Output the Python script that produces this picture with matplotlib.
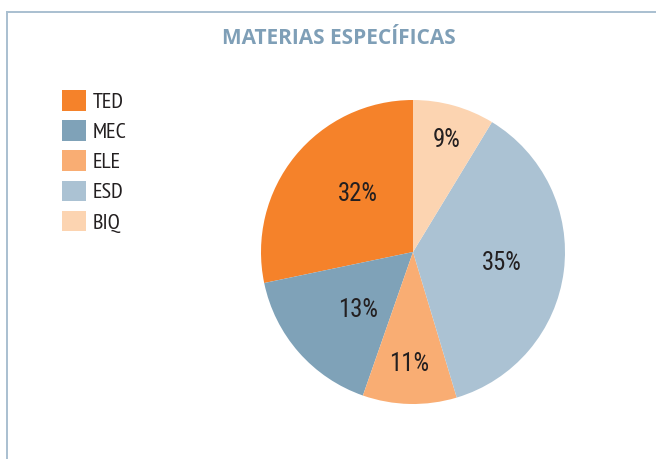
import numpy as np
import matplotlib
matplotlib.use("Agg")
import matplotlib.pyplot as plt
from matplotlib.lines import Line2D
from matplotlib.patches import Patch

# Data
categories = ["TED", "MEC", "ELE", "ESD", "BIQ"]
label_pct = [32, 13, 11, 35, 9]             # percentages printed on the slices
wedge_share = [28.3, 16.4, 10.0, 36.7, 8.7]  # slice sizes as drawn in the picture
colors = ["#f5822a", "#7fa2b8", "#f9ad73", "#abc2d3", "#fcd4b1"]
title = "MATERIAS ESPECÍFICAS"

# label placement style (radial distance and angular nudge, degrees)
label_dist = [0.528, 0.527, 0.74, 0.59, 0.767]
label_nudge = [-7.6, 5.4, -0.8, 0, -0.9]

W, H = 656, 459
fig = plt.figure(figsize=(W / 100, H / 100), dpi=100)
fig.patch.set_facecolor("white")

font_legend = ["PT Sans Narrow", "Roboto Condensed", "DejaVu Sans"]
font_label = ["Roboto Condensed", "Fira Sans Condensed", "PT Sans Narrow", "DejaVu Sans"]
font_title = ["Open Sans", "DejaVu Sans"]
txt_color = "#231f20"

# Frame lines (top and left)
fc = "#a9bfd0"
fig.add_artist(Line2D([7 / W, 1], [1 - 12 / H, 1 - 12 / H], color=fc, lw=1.4,
                      transform=fig.transFigure))
fig.add_artist(Line2D([7 / W, 7 / W], [0, 1 - 12 / H], color=fc, lw=1.4,
                      transform=fig.transFigure))

# Title
fig.text(339 / W, 1 - 38 / H, title, ha="center", va="center",
         fontsize=15, fontweight="bold", color="#7f9fb7", family=font_title)

# Pie axes
cx, cy, r = 413, 252, 152
ax = fig.add_axes([(cx - r) / W, (H - cy - r) / H, 2 * r / W, 2 * r / H])
wedges, texts = ax.pie(wedge_share, colors=colors, startangle=90, counterclock=True,
                       radius=1.0, wedgeprops=dict(linewidth=0))
ax.set_xlim(-1, 1)
ax.set_ylim(-1, 1)
ax.set_aspect("auto")
ax.axis("off")

for w, v, d, n in zip(wedges, label_pct, label_dist, label_nudge):
    mid = np.deg2rad((w.theta1 + w.theta2) / 2 + n)
    ax.text(d * np.cos(mid), d * np.sin(mid), f"{v}%", ha="center", va="center",
            fontsize=17.8, color=txt_color, family=font_label)

# Legend
handles = [Patch(facecolor=c, edgecolor="none") for c in colors]
leg = fig.legend(handles, categories, loc="upper left",
                 bbox_to_anchor=(62 / W, 1 - 90 / H), frameon=False,
                 prop={"family": font_legend, "size": 16},
                 handlelength=1.06, handleheight=1.06,
                 handletextpad=0.34, labelspacing=0.37, borderpad=0,
                 borderaxespad=0)
for t in leg.get_texts():
    t.set_color(txt_color)

fig.savefig("out.png", dpi=100)
